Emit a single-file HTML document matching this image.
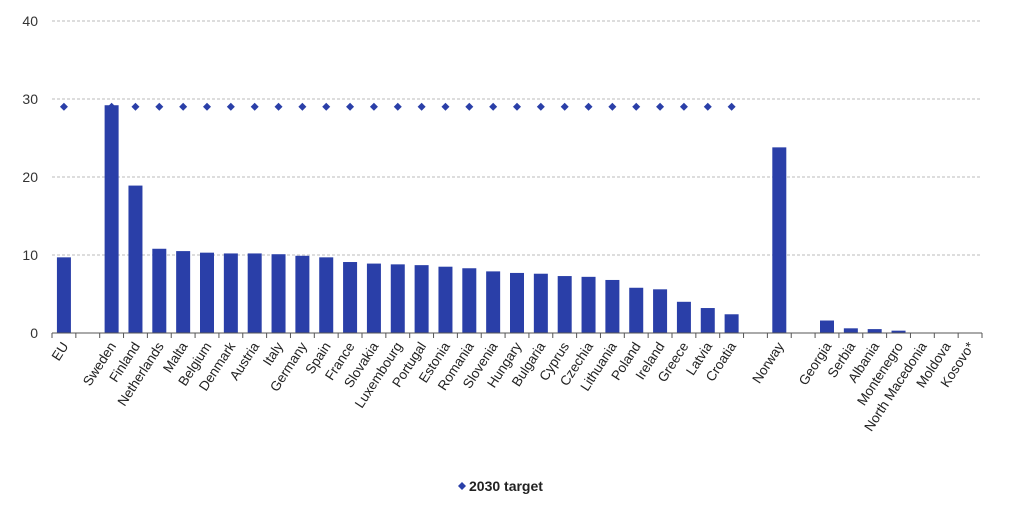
<!DOCTYPE html>
<html><head><meta charset="utf-8"><style>
body{margin:0;background:#fff;font-family:"Liberation Sans",sans-serif;}
svg{display:block}
</style></head><body>
<svg id="chart" width="1024" height="514" xmlns="http://www.w3.org/2000/svg"></svg>
<script>
const categories=["EU","","Sweden","Finland","Netherlands","Malta","Belgium","Denmark","Austria","Italy","Germany","Spain","France","Slovakia","Luxembourg","Portugal","Estonia","Romania","Slovenia","Hungary","Bulgaria","Cyprus","Czechia","Lithuania","Poland","Ireland","Greece","Latvia","Croatia","","Norway","","Georgia","Serbia","Albania","Montenegro","North Macedonia","Moldova","Kosovo*"];
const values=[9.7,null,29.2,18.9,10.8,10.5,10.3,10.2,10.2,10.1,9.9,9.7,9.1,8.9,8.8,8.7,8.5,8.3,7.9,7.7,7.6,7.3,7.2,6.8,5.8,5.6,4.0,3.2,2.4,null,23.8,null,1.6,0.6,0.5,0.3,0,0,0];
const targets=[29,null,29,29,29,29,29,29,29,29,29,29,29,29,29,29,29,29,29,29,29,29,29,29,29,29,29,29,29,null,null,null,null,null,null,null,null,null,null];
const yTicks=[0,10,20,30,40];
const NS="http://www.w3.org/2000/svg";
const svg=document.getElementById('chart');
const x0=52,x1=982,yBase=333,yTop=21,yMax=40;
const slot=(x1-x0)/categories.length;
const xc=i=>x0+slot*(i+0.5);
const y=v=>yBase-(v/yMax)*(yBase-yTop);
function mk(t,a){const e=document.createElementNS(NS,t);for(const k in a)e.setAttribute(k,a[k]);svg.appendChild(e);return e;}
yTicks.forEach(t=>{
  if(t>0){const g=mk('line',{x1:x0,x2:x1,y1:y(t),y2:y(t),stroke:'#bbb','stroke-dasharray':'3,2'});
  
  }
  const l=mk('text',{x:38,y:y(t)+5,'text-anchor':'end','font-size':'14',fill:'#333'});
  l.textContent=t;
  
  
});
values.forEach((v,i)=>{
  if(v===null||v<=0)return;
  const b=mk('rect',{x:xc(i)-7,y:y(v),width:14,height:yBase-y(v),fill:'#2a3fa8'});
  
  
});
const ax=mk('line',{x1:x0,x2:x1,y1:yBase,y2:yBase,stroke:'#555'});


for(let i=0;i<=categories.length;i++){
  const t=mk('line',{x1:x0+slot*i,x2:x0+slot*i,y1:yBase,y2:yBase+5,stroke:'#555'});
  
  
}
targets.forEach((v,i)=>{
  if(v===null)return;
  const cx=xc(i),cy=y(v);
  const d=mk('polygon',{points:`${cx},${cy-4} ${cx+4},${cy} ${cx},${cy+4} ${cx-4},${cy}`,fill:'#2a3fa8'});
  
  
});
categories.forEach((c,i)=>{
  if(!c)return;
  const tx=xc(i)+5,ty=yBase+13;
  const l=mk('text',{x:tx,y:ty,'text-anchor':'end','font-size':'13.5',fill:'#222',transform:`rotate(-57 ${tx} ${ty})`});
  l.textContent=c;
  
  
});
const lg=mk('polygon',{points:'462,482 466,486 462,490 458,486',fill:'#2a3fa8'});


const lt=mk('text',{x:469,y:491,'font-size':'14','font-weight':'bold',fill:'#222'});
lt.textContent='2030 target';


</script>
</body></html>
